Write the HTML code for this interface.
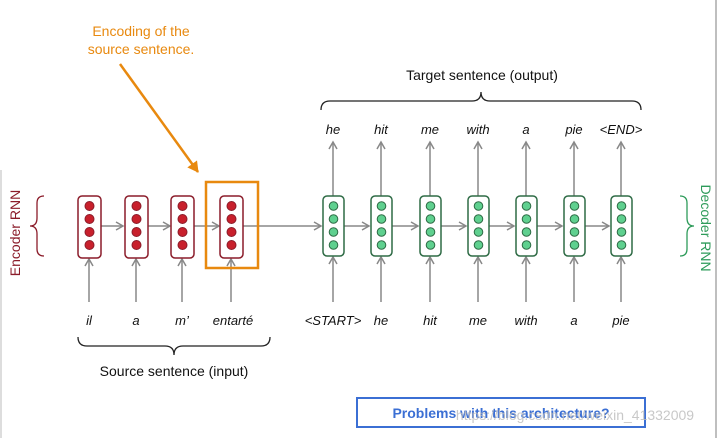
<!DOCTYPE html>
<html><head><meta charset="utf-8"><style>
body{margin:0;background:#fff;}
svg{display:block;font-family:"Liberation Sans",sans-serif;}
</style></head><body>
<svg width="720" height="438" viewBox="0 0 720 438" xmlns="http://www.w3.org/2000/svg">
<defs>
<marker id="ga" markerWidth="10" markerHeight="10" refX="8" refY="5" orient="auto" markerUnits="userSpaceOnUse"><path d="M1,1 L8,5 L1,9" fill="none" stroke="#888" stroke-width="1.5"/></marker>
<marker id="oa" markerWidth="14" markerHeight="14" refX="10" refY="7" orient="auto" markerUnits="userSpaceOnUse"><path d="M0,1 L11,7 L0,13 Z" fill="#e8890f"/></marker>
</defs>
<rect x="0" y="0" width="720" height="438" fill="#fff"/>
<line x1="716" y1="0" x2="716" y2="438" stroke="#aaa" stroke-width="1.5"/>
<line x1="1" y1="170" x2="1" y2="438" stroke="#bbb" stroke-width="1"/>
<g stroke="#888" stroke-width="1.5" fill="none">
<!-- encoder horizontal arrows -->
<line x1="101" y1="226" x2="123" y2="226" marker-end="url(#ga)"/>
<line x1="148" y1="226" x2="170" y2="226" marker-end="url(#ga)"/>
<line x1="194" y1="226" x2="219" y2="226" marker-end="url(#ga)"/>
<line x1="243" y1="226" x2="321" y2="226" marker-end="url(#ga)"/>
<line x1="344" y1="226" x2="369" y2="226" marker-end="url(#ga)"/>
<line x1="392" y1="226" x2="418" y2="226" marker-end="url(#ga)"/>
<line x1="441" y1="226" x2="466" y2="226" marker-end="url(#ga)"/>
<line x1="489" y1="226" x2="514" y2="226" marker-end="url(#ga)"/>
<line x1="537" y1="226" x2="562" y2="226" marker-end="url(#ga)"/>
<line x1="585" y1="226" x2="609" y2="226" marker-end="url(#ga)"/>
<!-- bottom input arrows -->
<line x1="89" y1="302" x2="89" y2="259" marker-end="url(#ga)"/>
<line x1="136" y1="302" x2="136" y2="259" marker-end="url(#ga)"/>
<line x1="182" y1="302" x2="182" y2="259" marker-end="url(#ga)"/>
<line x1="231" y1="302" x2="231" y2="259" marker-end="url(#ga)"/>
<line x1="333" y1="302" x2="333" y2="257" marker-end="url(#ga)"/>
<line x1="381" y1="302" x2="381" y2="257" marker-end="url(#ga)"/>
<line x1="430" y1="302" x2="430" y2="257" marker-end="url(#ga)"/>
<line x1="478" y1="302" x2="478" y2="257" marker-end="url(#ga)"/>
<line x1="526" y1="302" x2="526" y2="257" marker-end="url(#ga)"/>
<line x1="574" y1="302" x2="574" y2="257" marker-end="url(#ga)"/>
<line x1="621" y1="302" x2="621" y2="257" marker-end="url(#ga)"/>
<!-- top output arrows -->
<line x1="333" y1="196" x2="333" y2="142" marker-end="url(#ga)"/>
<line x1="381" y1="196" x2="381" y2="142" marker-end="url(#ga)"/>
<line x1="430" y1="196" x2="430" y2="142" marker-end="url(#ga)"/>
<line x1="478" y1="196" x2="478" y2="142" marker-end="url(#ga)"/>
<line x1="526" y1="196" x2="526" y2="142" marker-end="url(#ga)"/>
<line x1="574" y1="196" x2="574" y2="142" marker-end="url(#ga)"/>
<line x1="621" y1="196" x2="621" y2="142" marker-end="url(#ga)"/>
</g>
<!-- encoder cells -->
<g stroke="#8b1c2a" stroke-width="1.5">
<g fill="#fff">
<rect x="78" y="196" width="23" height="62" rx="4"/>
<rect x="125" y="196" width="23" height="62" rx="4"/>
<rect x="171" y="196" width="23" height="62" rx="4"/>
<rect x="220" y="196" width="23" height="62" rx="4"/>
</g>
<g fill="#c8202c" stroke-width="1">
<circle cx="89.5" cy="206" r="4.5"/><circle cx="89.5" cy="219" r="4.5"/><circle cx="89.5" cy="232" r="4.5"/><circle cx="89.5" cy="245" r="4.5"/>
<circle cx="136.5" cy="206" r="4.5"/><circle cx="136.5" cy="219" r="4.5"/><circle cx="136.5" cy="232" r="4.5"/><circle cx="136.5" cy="245" r="4.5"/>
<circle cx="182.5" cy="206" r="4.5"/><circle cx="182.5" cy="219" r="4.5"/><circle cx="182.5" cy="232" r="4.5"/><circle cx="182.5" cy="245" r="4.5"/>
<circle cx="231.5" cy="206" r="4.5"/><circle cx="231.5" cy="219" r="4.5"/><circle cx="231.5" cy="232" r="4.5"/><circle cx="231.5" cy="245" r="4.5"/>
</g>
</g>
<!-- decoder cells -->
<g stroke="#2e6b45" stroke-width="1.5" fill="#fff">
<rect x="323" y="196" width="21" height="60" rx="4"/>
<rect x="371" y="196" width="21" height="60" rx="4"/>
<rect x="420" y="196" width="21" height="60" rx="4"/>
<rect x="468" y="196" width="21" height="60" rx="4"/>
<rect x="516" y="196" width="21" height="60" rx="4"/>
<rect x="564" y="196" width="21" height="60" rx="4"/>
<rect x="611" y="196" width="21" height="60" rx="4"/>
</g>
<g stroke="#2e6b45" stroke-width="1" fill="#5fd08f">
<circle cx="333.5" cy="206" r="4.3"/><circle cx="333.5" cy="219" r="4.3"/><circle cx="333.5" cy="232" r="4.3"/><circle cx="333.5" cy="245" r="4.3"/>
<circle cx="381.5" cy="206" r="4.3"/><circle cx="381.5" cy="219" r="4.3"/><circle cx="381.5" cy="232" r="4.3"/><circle cx="381.5" cy="245" r="4.3"/>
<circle cx="430.5" cy="206" r="4.3"/><circle cx="430.5" cy="219" r="4.3"/><circle cx="430.5" cy="232" r="4.3"/><circle cx="430.5" cy="245" r="4.3"/>
<circle cx="478.5" cy="206" r="4.3"/><circle cx="478.5" cy="219" r="4.3"/><circle cx="478.5" cy="232" r="4.3"/><circle cx="478.5" cy="245" r="4.3"/>
<circle cx="526.5" cy="206" r="4.3"/><circle cx="526.5" cy="219" r="4.3"/><circle cx="526.5" cy="232" r="4.3"/><circle cx="526.5" cy="245" r="4.3"/>
<circle cx="574.5" cy="206" r="4.3"/><circle cx="574.5" cy="219" r="4.3"/><circle cx="574.5" cy="232" r="4.3"/><circle cx="574.5" cy="245" r="4.3"/>
<circle cx="621.5" cy="206" r="4.3"/><circle cx="621.5" cy="219" r="4.3"/><circle cx="621.5" cy="232" r="4.3"/><circle cx="621.5" cy="245" r="4.3"/>
</g>
<!-- orange box & arrow -->
<rect x="206" y="182" width="52" height="86" fill="none" stroke="#e8890f" stroke-width="2.5"/>
<line x1="120" y1="64" x2="198" y2="172" stroke="#e8890f" stroke-width="2.5" marker-end="url(#oa)"/>
<text x="141" y="36" fill="#e8890f" font-size="14" text-anchor="middle">Encoding of the</text>
<text x="141" y="54" fill="#e8890f" font-size="14" text-anchor="middle">source sentence.</text>
<!-- braces -->
<g fill="none" stroke="#222" stroke-width="1.3">
<path d="M321,110 Q321,101 330,101 L472,101 Q481,101 481,92 Q481,101 490,101 L632,101 Q641,101 641,110"/>
<path d="M78,337 Q78,346 87,346 L165,346 Q174,346 174,355 Q174,346 183,346 L261,346 Q270,346 270,337"/>
</g>
<g fill="none" stroke="#8b1c2a" stroke-width="1.3">
<path d="M44,196 Q37,196 37,203 L37,218 Q37,226 30,226 Q37,226 37,234 L37,249 Q37,256 44,256"/>
</g>
<g fill="none" stroke="#2e9b5a" stroke-width="1.3">
<path d="M680,196 Q687,196 687,203 L687,218 Q687,226 694,226 Q687,226 687,234 L687,249 Q687,256 680,256"/>
</g>
<text transform="translate(20,233) rotate(-90)" fill="#8b1c2a" font-size="14" text-anchor="middle">Encoder RNN</text>
<text transform="translate(701,228) rotate(90)" fill="#2e9b5a" font-size="14" text-anchor="middle">Decoder RNN</text>
<text x="482" y="80" font-size="14" text-anchor="middle" fill="#111">Target sentence (output)</text>
<text x="174" y="376" font-size="14" text-anchor="middle" fill="#111">Source sentence (input)</text>
<g font-size="13" font-style="italic" text-anchor="middle" fill="#111">
<text x="333" y="134">he</text><text x="381" y="134">hit</text><text x="430" y="134">me</text><text x="478" y="134">with</text><text x="526" y="134">a</text><text x="574" y="134">pie</text><text x="621" y="134">&lt;END&gt;</text>
<text x="89" y="325">il</text><text x="136" y="325">a</text><text x="182" y="325">m’</text><text x="233" y="325">entarté</text>
<text x="333" y="325">&lt;START&gt;</text><text x="381" y="325">he</text><text x="430" y="325">hit</text><text x="478" y="325">me</text><text x="526" y="325">with</text><text x="574" y="325">a</text><text x="621" y="325">pie</text>
</g>
<rect x="357" y="398" width="288" height="29" fill="#fff" stroke="#3b6fd4" stroke-width="2"/>
<text x="501" y="418" font-size="14" font-weight="bold" text-anchor="middle" fill="#3b6fd4">Problems with this architecture?</text>
<text x="575" y="420" font-size="14" text-anchor="middle" fill="#bbb" opacity="0.8">https://blog.csdn.net/weixin_41332009</text>
</svg>
</body></html>
